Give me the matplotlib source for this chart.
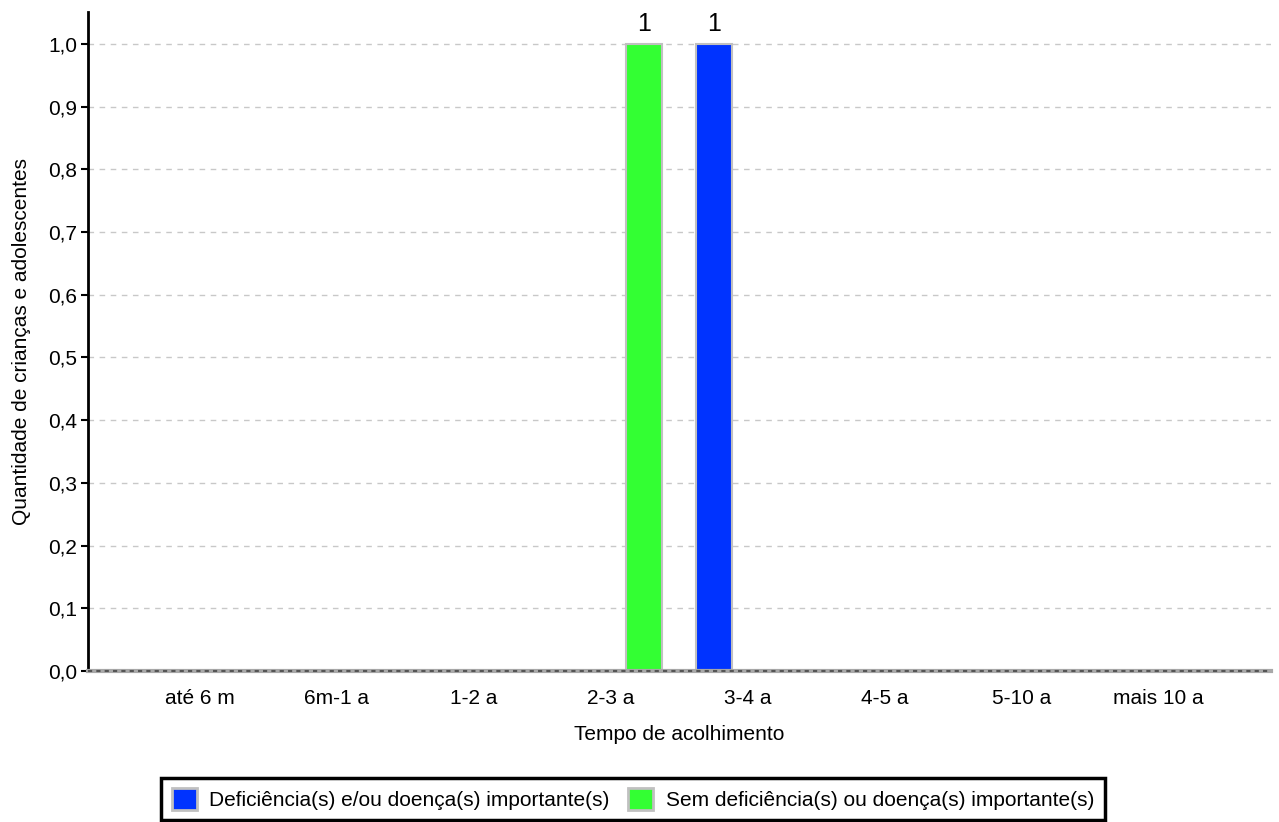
import numpy as np
import matplotlib.pyplot as plt
from matplotlib.patches import Patch

categorias = ['até 6 m', '6m-1 a', '1-2 a', '2-3 a', '3-4 a', '4-5 a', '5-10 a', 'mais 10 a']
com_deficiencia = [0, 0, 0, 0, 1, 0, 0, 0]
sem_deficiencia = [0, 0, 0, 1, 0, 0, 0, 0]
series_nomes = ['Deficiência(s) e/ou doença(s) importante(s)',
                'Sem deficiência(s) ou doença(s) importante(s)']
yticks = np.arange(0, 1.01, 0.1)

plt.rcParams['font.family'] = ['Liberation Sans', 'DejaVu Sans']

cor_azul = '#0033ff'
cor_verde = '#33ff33'
cor_borda = '#c0c0c0'
fs = 15

fig = plt.figure(figsize=(12.79, 8.22), dpi=100)
ax = fig.add_axes([88/1279, 1 - 671/822, (1271 - 88)/1279, (671 - 12)/822])

x = np.arange(len(categorias))
largura = 0.263
desloc = 0.245

b1 = ax.bar(x - desloc, com_deficiencia, largura, color=cor_azul, edgecolor=cor_borda, linewidth=1.5, zorder=3)
b2 = ax.bar(x + desloc, sem_deficiencia, largura, color=cor_verde, edgecolor=cor_borda, linewidth=1.5, zorder=3)

# rótulos de valor só onde há barra
for barras, vals in [(b1, com_deficiencia), (b2, sem_deficiencia)]:
    for b, v in zip(barras, vals):
        if v > 0:
            ax.text(b.get_x() + b.get_width()/2, v + 0.012, str(v), ha='center', va='bottom', fontsize=18)

ax.set_xlim(-0.814, 7.82)
ax.set_ylim(0, 1.051)
ax.set_xticks(x)
ax.set_xticklabels(categorias, fontsize=fs)
ax.tick_params(axis='x', length=0, pad=13)
ax.set_yticks(yticks)
ax.set_yticklabels([f'{v:.1f}'.replace('.', ',') for v in yticks], fontsize=fs)
ax.tick_params(axis='y', length=5, width=1.5, pad=3)

for v in yticks[1:]:
    ax.axhline(v, color='#c8c8c8', linestyle=(0, (4, 4)), linewidth=1, zorder=1)
ax.axhline(0, color='#a8a8a8', linewidth=3, zorder=4, clip_on=False)
ax.axhline(0, color='#555555', linestyle=(0, (2, 2)), linewidth=1.5, zorder=4, clip_on=False)

for s in ['top', 'right', 'bottom']:
    ax.spines[s].set_visible(False)
ax.spines['left'].set_linewidth(2)

ax.set_xlabel('Tempo de acolhimento', fontsize=fs, labelpad=12)
ax.set_ylabel('Quantidade de crianças e adolescentes', fontsize=fs, labelpad=12)

handles = [Patch(facecolor=cor_azul, edgecolor=cor_borda, linewidth=2),
           Patch(facecolor=cor_verde, edgecolor=cor_borda, linewidth=2)]
leg = fig.legend(handles, series_nomes, loc='center', bbox_to_anchor=(633/1279, 1 - 799/822),
                 ncol=2, fontsize=fs, frameon=True, fancybox=False, edgecolor='black',
                 framealpha=1, handlelength=1.2, handleheight=1.2, handletextpad=0.6,
                 columnspacing=0.9, borderpad=0.5, borderaxespad=0)
leg.get_frame().set_linewidth(2.5)

fig.savefig('out.png', dpi=100)
